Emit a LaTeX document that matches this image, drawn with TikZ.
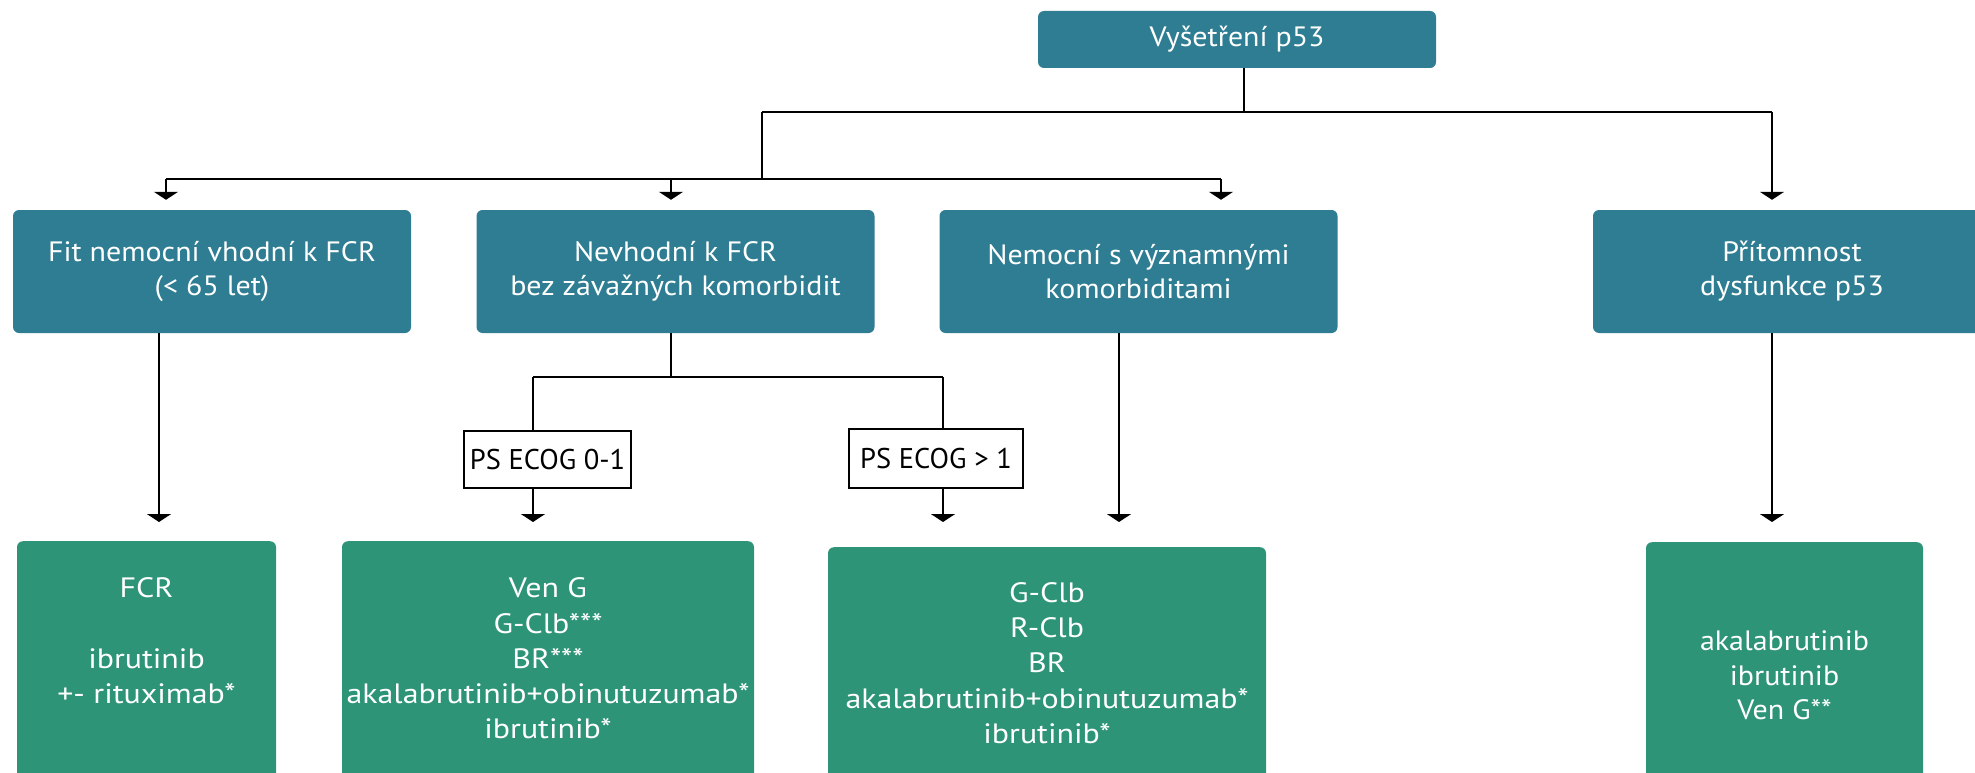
\documentclass[tikz,border=0pt]{standalone}
\usepackage{fontspec}
\setmainfont{PT Sans}
\newfontfamily\bluefont[FakeStretch=1.07]{PT Sans}
\newfontfamily\greenfont[FakeStretch=1.14]{PT Sans}
\usetikzlibrary{arrows.meta}
\definecolor{boxblue}{RGB}{46,125,146}
\definecolor{boxgreen}{RGB}{45,148,119}
\begin{document}
\begin{tikzpicture}[x=1pt,y=-1pt,
  bluebox/.style={fill=boxblue, rounded corners=6pt, text=white, align=center, inner sep=0pt,
    minimum width=398pt, minimum height=123pt, font=\bluefont\fontsize{28}{34}\selectfont},
  greenbox/.style={fill=boxgreen, rounded corners=6pt, inner sep=0pt, anchor=north, minimum height=260pt},
  gtext/.style={text=white, align=center, inner sep=0pt, font=\greenfont\fontsize{28}{35.3}\selectfont},
  gtextwide/.style={text=white, align=center, inner sep=0pt, font=\bluefont\fontsize{28}{34.5}\selectfont},
  psbox/.style={draw=black, line width=2pt, fill=white, inner sep=0pt, font=\fontsize{28.5}{34}\selectfont},
  conn/.style={line width=1.8pt},
  arr/.style={conn, -{Triangle[width=24pt,length=8pt]}}
]
\useasboundingbox (0,0) rectangle (1975,773);
\clip (0,0) rectangle (1975,773);

% blue boxes
\node[bluebox, minimum height=57pt] (top) at (1237,39.5) {Vyšetření p53};
\node[bluebox] (b1) at (212,271.5) {Fit nemocní vhodní k FCR\\(< 65 let)};
\node[bluebox] (b2) at (675.5,271.5) {Nevhodní k FCR\\bez závažných komorbidit};
\node[bluebox] (b3) at (1138.5,271.5) {Nemocní s významnými\\komorbiditami};
\node[bluebox] (b4) at (1792,271.5) {Přítomnost\\dysfunkce p53};

% PS boxes
\node[psbox, minimum width=167pt, minimum height=57pt] (ps1) at (547.5,459.5) {PS ECOG 0-1};
\node[psbox, minimum width=174pt, minimum height=59pt] (ps2) at (936,458.5) {PS ECOG > 1};

% green boxes
\node[greenbox, minimum width=259pt] (g1) at (146.5,541) {};
\node[greenbox, minimum width=412pt] (g2) at (548,541) {};
\node[greenbox, minimum width=438pt] (g3) at (1047,547) {};
\node[greenbox, minimum width=277pt] (g4) at (1784.5,542) {};

\node[gtext] (g1t) at (146.5,641) {FCR\\[35.3pt]ibrutinib\\+- rituximab*};
\node[gtext] (g2t) at (548,658.5) {Ven G\\G-Clb***\\BR***\\akalabrutinib+obinutuzumab*\\ibrutinib*};
\node[gtext] (g3t) at (1047,663) {G-Clb\\R-Clb\\BR\\akalabrutinib+obinutuzumab*\\ibrutinib*};
\node[gtextwide] (g4t) at (1784.5,675.5) {akalabrutinib\\ibrutinib\\Ven G**};

% junction coordinates
\coordinate (j0) at (1244,112);
\coordinate (jl) at (762,112);
\coordinate (jr) at (1772,112);
\coordinate (jm) at (762,179);
\coordinate (h2l) at (166,179);
\coordinate (h2m) at (671,179);
\coordinate (h2r) at (1221,179);
\coordinate (s) at (671,377);
\coordinate (sl) at (533,377);
\coordinate (sr) at (943,377);

% connectors
\draw[conn] ([xshift=7pt]top.south) -- (j0);
\draw[conn] (jl) -- (jr);
\draw[conn] (jl) -- (jm);
\draw[conn] (h2l) -- (h2r);
\draw[arr, shorten >=10pt] (h2l) -- (h2l |- b1.north);
\draw[arr, shorten >=10pt] (h2m) -- (h2m |- b2.north);
\draw[arr, shorten >=10pt] (h2r) -- (h2r |- b3.north);
\draw[arr, shorten >=10pt] (jr) -- (jr |- b4.north);

\draw[arr, shorten >=19pt] ([xshift=-53pt]b1.south) -- ([xshift=-53pt]b1.south |- g1.north);
\draw[conn] ([xshift=-4.5pt]b2.south) -- (s);
\draw[conn] (sl) -- (sr);
\draw[conn] (sl) -- (sl |- ps1.north);
\draw[conn] (sr) -- (sr |- ps2.north);
\draw[arr, shorten >=19pt] (sl |- ps1.south) -- (sl |- g2.north);
\draw[arr, shorten >=25pt] (sr |- ps2.south) -- (sr |- g3.north);
\draw[arr, shorten >=25pt] ([xshift=-19.5pt]b3.south) -- ([xshift=-19.5pt]b3.south |- g3.north);
\draw[arr, shorten >=20pt] ([xshift=-20pt]b4.south) -- ([xshift=-20pt]b4.south |- g4.north);
\end{tikzpicture}
\end{document}
